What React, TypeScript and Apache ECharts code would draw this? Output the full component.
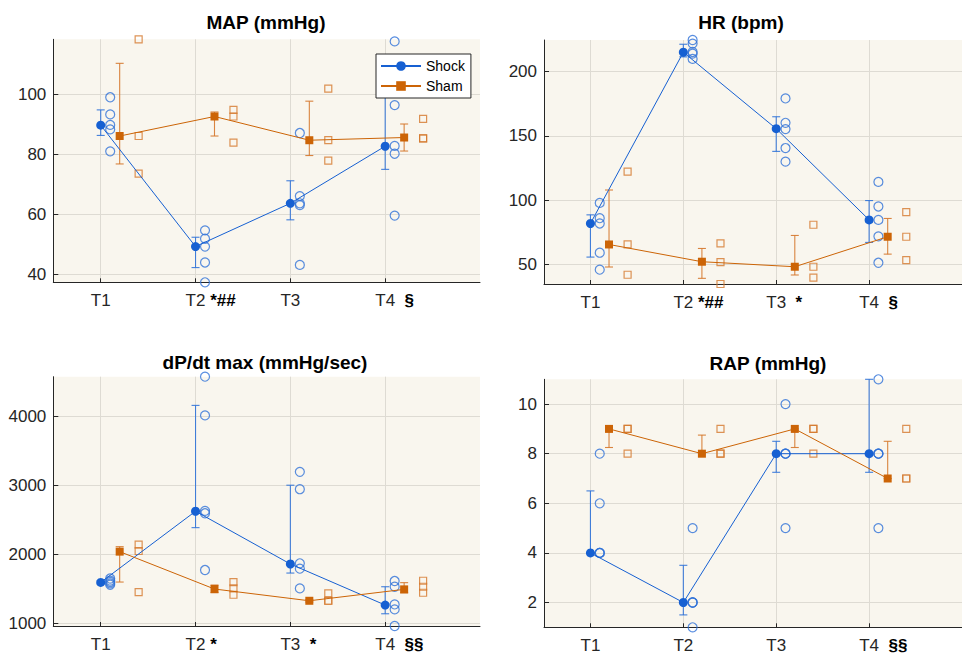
import React, { useEffect, useRef } from 'react';
import * as echarts from 'echarts';

// ---------- data ----------
const timePoints = [1, 2, 3, 4];
const timeLabels = ['T1', 'T2', 'T3', 'T4'];

// MAP (mmHg)
const mapShockMean = [89.7, 49.3, 63.7, 82.7];
const mapShockLow = [86.3, 42.3, 58.2, 75.0];
const mapShockHigh = [94.8, 52.4, 71.2, 108.0];
const mapShockPts = [
  [99.0, 93.3, 89.8, 88.3, 81.0],
  [54.7, 51.9, 49.3, 44.0, 37.4],
  [87.1, 66.1, 63.7, 63.1, 43.2],
  [117.6, 96.4, 82.8, 80.2, 59.6],
];
const mapShamMean = [86.1, 92.6, 84.7, 85.6];
const mapShamLow = [76.8, 86.1, 79.6, 81.1];
const mapShamHigh = [110.3, 94.1, 97.7, 90.1];
const mapShamPts = [
  [118.3, 86.1, 73.6],
  [94.8, 92.6, 83.9],
  [101.9, 84.7, 77.9],
  [91.8, 85.3, 85.3],
];
const mapMarks = ['', ' *##', '', '  §'];
const mapYTicks = [40, 60, 80, 100];

// HR (bpm)
const hrShockMean = [82.0, 215.0, 155.6, 84.8];
const hrShockLow = [55.9, 211.4, 138.0, 67.3];
const hrShockHigh = [88.7, 221.2, 164.9, 99.8];
const hrShockPts = [
  [98.0, 86.1, 82.0, 59.3, 46.1],
  [224.5, 221.7, 215.2, 213.9, 209.8],
  [179.1, 160.2, 155.3, 140.6, 130.0],
  [114.3, 95.2, 84.8, 72.0, 51.5],
];
const hrShamMean = [65.7, 52.3, 48.4, 71.7];
const hrShamLow = [48.2, 39.4, 42.0, 58.2];
const hrShamHigh = [108.0, 62.6, 72.7, 85.9];
const hrShamPts = [
  [122.3, 65.7, 42.2],
  [66.5, 52.0, 35.0],
  [81.0, 48.4, 39.9],
  [90.8, 71.7, 53.6],
];
const hrMarks = ['', ' *##', '  *', '  §'];
const hrYTicks = [50, 100, 150, 200];

// dP/dt max (mmHg/sec)
const dpShockMean = [1594, 2623, 1860, 1266];
const dpShockLow = [1570, 2386, 1729, 1140];
const dpShockHigh = [1620, 4155, 3000, 1531];
const dpShockPts = [
  [1650, 1620, 1600, 1580, 1560],
  [4570, 4010, 2628, 2594, 1773],
  [3193, 2942, 1870, 1792, 1507],
  [1614, 1531, 1275, 1203, 963],
];
const dpShamMean = [2039, 1498, 1328, 1493];
const dpShamLow = [1599, 1444, 1310, 1444];
const dpShamHigh = [2111, 1556, 1345, 1590];
const dpShamPts = [
  [2140, 2048, 1454],
  [1599, 1507, 1415],
  [1435, 1328, 1328],
  [1618, 1531, 1444],
];
const dpMarks = ['', ' *', '  *', '  §§'];
const dpYTicks = [1000, 2000, 3000, 4000];

// RAP (mmHg)
const rapShockMean = [4, 2, 8, 8];
const rapShockLow = [4, 1.5, 7.25, 7.25];
const rapShockHigh = [6.5, 3.5, 8.5, 11];
const rapShockPts = [
  [8, 6, 4, 4, 4],
  [5, 2, 2, 1, 2],
  [10, 8, 8, 5, 8],
  [11, 8, 8, 5, 8],
];
const rapShamMean = [9, 8, 9, 7];
const rapShamLow = [8.25, 8, 8.25, 7];
const rapShamHigh = [9, 8.75, 9, 8.5];
const rapShamPts = [
  [9, 9, 8],
  [9, 8, 8],
  [9, 9, 8],
  [9, 7, 7],
];
const rapMarks = ['', '', '', '  §§'];
const rapYTicks = [2, 4, 6, 8, 10];

// ---------- styling / layout ----------
const FONT = '"Liberation Sans", Arial, Helvetica, sans-serif';
const shockColor = '#1660d2';
const shockPtColor = '#2f72d8';
const shamColor = '#cc6406';
const shamPtColor = '#d5782c';
const gridColor = '#dedbd3';
const plotBg = '#f9f6ee';
const axisColor = '#262626';

const OFF_SHOCK_PTS = 0.1;
const OFF_SHAM_MEAN = 0.2;
const OFF_SHAM_PTS = 0.4;

const panels = [
  {
    title: 'MAP (mmHg)', titleX: 266, titleY: 22,
    rect: { left: 53.3, top: 39.3, width: 426.7, height: 243 },
    yMin: 37.4, yMax: 118.3, yTicks: mapYTicks, marks: mapMarks,
    shock: { mean: mapShockMean, lo: mapShockLow, hi: mapShockHigh, pts: mapShockPts },
    sham: { mean: mapShamMean, lo: mapShamLow, hi: mapShamHigh, pts: mapShamPts },
  },
  {
    title: 'HR (bpm)', titleX: 741, titleY: 22,
    rect: { left: 544, top: 40, width: 430, height: 244 },
    yMin: 35, yMax: 224.5, yTicks: hrYTicks, marks: hrMarks,
    shock: { mean: hrShockMean, lo: hrShockLow, hi: hrShockHigh, pts: hrShockPts },
    sham: { mean: hrShamMean, lo: hrShamLow, hi: hrShamHigh, pts: hrShamPts },
  },
  {
    title: 'dP/dt max (mmHg/sec)', titleX: 265, titleY: 362,
    rect: { left: 53.3, top: 376.7, width: 426.7, height: 249.3 },
    yMin: 963, yMax: 4570, yTicks: dpYTicks, marks: dpMarks,
    shock: { mean: dpShockMean, lo: dpShockLow, hi: dpShockHigh, pts: dpShockPts },
    sham: { mean: dpShamMean, lo: dpShamLow, hi: dpShamHigh, pts: dpShamPts },
  },
  {
    title: 'RAP (mmHg)', titleX: 768, titleY: 363,
    rect: { left: 544, top: 379.3, width: 430, height: 248 },
    yMin: 1, yMax: 11, yTicks: rapYTicks, marks: rapMarks,
    shock: { mean: rapShockMean, lo: rapShockLow, hi: rapShockHigh, pts: rapShockPts },
    sham: { mean: rapShamMean, lo: rapShamLow, hi: rapShamHigh, pts: rapShamPts },
  },
];

function measure(text: string, font: string): number {
  const c = document.createElement('canvas').getContext('2d');
  if (!c) return text.length * 9;
  c.font = font;
  return c.measureText(text).width;
}

function errorBarSeries(idx: number, data: number[][], color: string) {
  return {
    type: 'custom',
    xAxisIndex: idx,
    yAxisIndex: idx,
    silent: true,
    z: 2,
    data,
    encode: { x: 0, y: [1, 2] },
    renderItem: (_params: any, api: any) => {
      const x = api.value(0);
      const a = api.coord([x, api.value(1)]);
      const b = api.coord([x, api.value(2)]);
      const style = { stroke: color, lineWidth: 1.1, opacity: 0.9 };
      const cap = 4;
      return {
        type: 'group',
        children: [
          { type: 'line', shape: { x1: a[0], y1: a[1], x2: b[0], y2: b[1] }, style },
          { type: 'line', shape: { x1: a[0] - cap, y1: a[1], x2: a[0] + cap, y2: a[1] }, style },
          { type: 'line', shape: { x1: b[0] - cap, y1: b[1], x2: b[0] + cap, y2: b[1] }, style },
        ],
      };
    },
  };
}

function buildOption() {
  const grid: any[] = [];
  const xAxis: any[] = [];
  const yAxis: any[] = [];
  const series: any[] = [];
  const graphic: any[] = [];
  const boldFont = `bold 17px ${FONT}`;

  panels.forEach((p, i) => {
    grid.push({
      left: p.rect.left, top: p.rect.top, width: p.rect.width, height: p.rect.height,
      show: true, backgroundColor: plotBg, borderWidth: 0, containLabel: false,
    });

    const rich: any = {
      t: { fontSize: 17, color: axisColor, fontFamily: FONT },
      s: { fontSize: 17, color: '#000', fontWeight: 'bold', fontFamily: FONT },
    };
    p.marks.forEach((m, j) => {
      if (m) rich['p' + j] = { width: measure(m, boldFont), fontSize: 17, fontFamily: FONT };
    });

    xAxis.push({
      type: 'value', gridIndex: i, min: 0.5, max: 5,
      axisLine: { show: true, onZero: false, lineStyle: { color: axisColor, width: 1 } },
      axisTick: { show: true, inside: true, length: 4, customValues: timePoints, lineStyle: { color: axisColor } },
      splitLine: { show: true, lineStyle: { color: gridColor, width: 1 } },
      axisLabel: {
        customValues: timePoints, margin: 10, fontFamily: FONT, fontSize: 17, color: axisColor,
        formatter: (v: number) => {
          const j = Math.round(v) - 1;
          const m = p.marks[j];
          return m ? `{p${j}| }{t|${timeLabels[j]}}{s|${m}}` : `{t|${timeLabels[j]}}`;
        },
        rich,
      },
    });
    yAxis.push({
      type: 'value', gridIndex: i, min: p.yMin, max: p.yMax,
      axisLine: { show: true, lineStyle: { color: axisColor, width: 1 } },
      axisTick: { show: true, inside: true, length: 5, customValues: p.yTicks, lineStyle: { color: axisColor } },
      splitLine: { show: true, lineStyle: { color: gridColor, width: 1 } },
      axisLabel: {
        customValues: p.yTicks, margin: 7, fontFamily: FONT, fontSize: 17, color: axisColor,
        formatter: (v: number) => String(v),
      },
    });

    series.push(errorBarSeries(i, timePoints.map((t, j) => [t, p.shock.lo[j], p.shock.hi[j]]), shockPtColor));
    series.push(errorBarSeries(i, timePoints.map((t, j) => [t + OFF_SHAM_MEAN, p.sham.lo[j], p.sham.hi[j]]), shamPtColor));

    const shockPts: number[][] = [];
    p.shock.pts.forEach((arr, j) => arr.forEach((v) => shockPts.push([timePoints[j] + OFF_SHOCK_PTS, v])));
    const shamPts: number[][] = [];
    p.sham.pts.forEach((arr, j) => arr.forEach((v) => shamPts.push([timePoints[j] + OFF_SHAM_PTS, v])));

    series.push({
      type: 'scatter', name: 'Shock individual', xAxisIndex: i, yAxisIndex: i, clip: false, z: 3,
      symbol: 'circle', symbolSize: 9, data: shockPts, silent: true,
      itemStyle: { color: 'rgba(0,0,0,0)', borderColor: shockPtColor, borderWidth: 1.2 },
    });
    series.push({
      type: 'scatter', name: 'Sham individual', xAxisIndex: i, yAxisIndex: i, clip: false, z: 3,
      symbol: 'rect', symbolSize: 7, data: shamPts, silent: true,
      itemStyle: { color: 'rgba(0,0,0,0)', borderColor: shamPtColor, borderWidth: 1.2 },
    });

    series.push({
      type: 'line', name: 'Shock', xAxisIndex: i, yAxisIndex: i, clip: false, z: 4,
      data: timePoints.map((t, j) => [t, p.shock.mean[j]]),
      symbol: 'circle', symbolSize: 9, showSymbol: true,
      itemStyle: { color: shockColor },
      lineStyle: { color: shockColor, width: 1 },
    });
    series.push({
      type: 'line', name: 'Sham', xAxisIndex: i, yAxisIndex: i, clip: false, z: 4,
      data: timePoints.map((t, j) => [t + OFF_SHAM_MEAN, p.sham.mean[j]]),
      symbol: 'rect', symbolSize: 8, showSymbol: true,
      itemStyle: { color: shamColor },
      lineStyle: { color: shamColor, width: 1 },
    });

    graphic.push({
      type: 'text', x: p.titleX, y: p.titleY, z: 10,
      style: {
        text: p.title, fontFamily: FONT, fontSize: 19, fontWeight: 'bold', fill: '#000',
        align: 'center', verticalAlign: 'middle',
      },
    });
  });

  return {
    animation: false,
    backgroundColor: '#ffffff',
    textStyle: { fontFamily: FONT },
    grid, xAxis, yAxis, series, graphic,
    legend: {
      data: ['Shock', 'Sham'],
      left: 376, top: 54, orient: 'vertical',
      backgroundColor: '#ffffff', borderColor: axisColor, borderWidth: 1, borderRadius: 0,
      padding: [5, 6, 5, 4], itemWidth: 40, itemHeight: 12, itemGap: 6,
      selectedMode: false,
      textStyle: { fontSize: 14, color: '#000', fontFamily: FONT, padding: [0, 0, 0, 0] },
      z: 20,
    },
  };
}

export default function App() {
  const ref = useRef<HTMLDivElement>(null);
  useEffect(() => {
    if (!ref.current) return;
    const chart = echarts.init(ref.current, null, { renderer: 'svg' });
    chart.setOption(buildOption() as any);
    return () => chart.dispose();
  }, []);
  return (
    <div
      ref={ref}
      style={{ position: 'absolute', left: 0, top: 0, width: 962, height: 656, background: '#fff' }}
    />
  );
}
